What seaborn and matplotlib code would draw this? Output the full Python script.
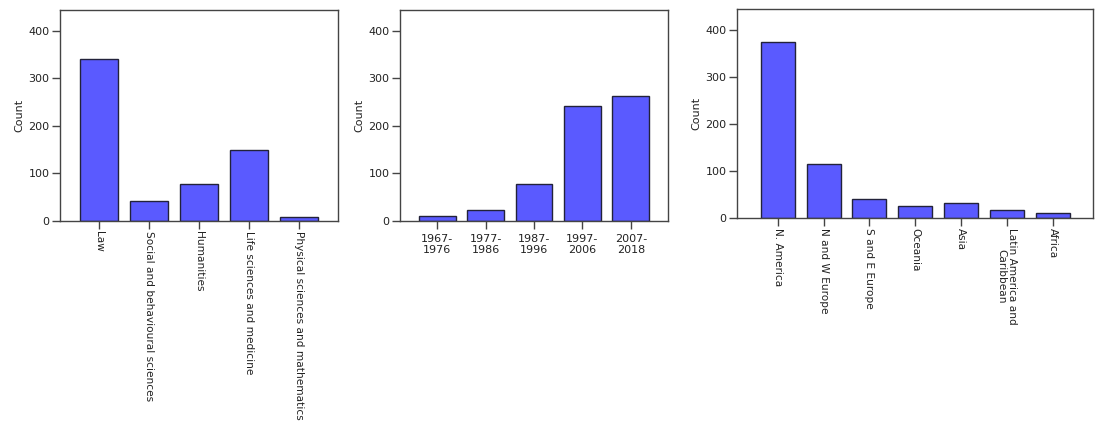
import matplotlib
matplotlib.use("Agg")
import matplotlib.pyplot as plt
import seaborn as sns
import pandas as pd

# ---- data ----
disciplines = ["Law", "Social and behavioural sciences", "Humanities",
               "Life sciences and medicine", "Physical sciences and mathematics"]
discipline_counts = [340, 42, 78, 150, 8]

periods = ["1967-\n1976", "1977-\n1986", "1987-\n1996", "1997-\n2006", "2007-\n2018"]
period_counts = [10, 24, 78, 241, 264]

regions = ["N. America", "N and W Europe", "S and E Europe", "Oceania", "Asia",
           "Latin America and\nCaribbean", "Africa"]
region_counts = [374, 115, 40, 26, 32, 16, 11]

yticks = [0, 100, 200, 300, 400]

sns.set_style("white")
plt.rcParams["font.family"] = ["DejaVu Sans"]

W, H = 1097, 426
fig = plt.figure(figsize=(W / 100, H / 100), dpi=100)

BAR = "#5a5aff"
EDGE = "#22223a"
SPINE = "#444444"
TXT = "#222222"
FS = 8
FS_ROT = 7.6

def px_axes(x0, x1, ytop, ybot):
    return fig.add_axes([x0 / W, (H - ybot) / H, (x1 - x0) / W, (ybot - ytop) / H])

def style(ax, cats, vals, xlim, width, rot):
    df = pd.DataFrame({"cat": cats, "val": vals})
    sns.barplot(data=df, x="cat", y="val", ax=ax, color=BAR, saturation=1,
                width=width, edgecolor=EDGE, linewidth=1.0)
    ax.set_xlim(*xlim)
    ax.set_ylim(0, 444)
    ax.set_yticks(yticks)
    ax.set_yticklabels([str(v) for v in yticks], fontsize=FS, color=TXT)
    ax.set_ylabel("Count", fontsize=FS, color=TXT, labelpad=3)
    ax.set_xlabel("")
    for s in ax.spines.values():
        s.set_visible(True)
        s.set_color(SPINE)
        s.set_linewidth(1.0)
    ax.tick_params(axis="both", direction="out", length=6, width=1,
                   color=SPINE, pad=1.5, left=True, bottom=True)
    ax.set_xticks(range(len(cats)))
    if rot:
        ax.set_xticklabels(cats, rotation=-90, ha="center", va="top",
                           fontsize=FS_ROT, color=TXT, linespacing=1.0)
        ax.tick_params(axis="x", pad=1)
    else:
        ax.set_xticklabels(cats, fontsize=FS, color=TXT, linespacing=1.15)
        ax.tick_params(axis="x", pad=3)

ax1 = px_axes(60, 338, 10, 221)
style(ax1, disciplines, discipline_counts, (-0.78, 4.78), 0.76, True)

ax2 = px_axes(400, 668, 10, 221)
style(ax2, periods, period_counts, (-0.77, 4.77), 0.76, False)

ax3 = px_axes(737, 1093, 9, 218)
style(ax3, regions, region_counts, (-0.89, 6.88), 0.74, True)

fig.savefig("out.png", dpi=100, facecolor="white")
